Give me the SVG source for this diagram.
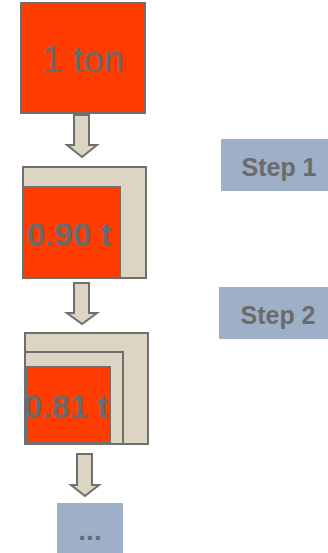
<svg xmlns="http://www.w3.org/2000/svg" width="328" height="553" viewBox="0 0 328 553">
  <style>
    .mass { fill: #ff3c00; stroke: #6f6f6f; stroke-width: 2; }
    .loss { fill: #dcd5c3; stroke: #6f6f6f; stroke-width: 2; }
    .step { fill: #9db0c7; }
    .arrow { fill: #dcd5c3; stroke: #6f6f6f; stroke-width: 2; stroke-linejoin: miter; }
    .lbl { font-family: "Liberation Sans", Arial, sans-serif; fill: #6b6b6b; text-anchor: middle; }
    .b { font-weight: bold; }
  </style>

  <!-- starting mass -->
  <g id="start">
    <rect class="mass" x="21" y="3" width="124" height="110"/>
    <text class="lbl" x="83" y="72" font-size="37">1 ton</text>
  </g>

  <!-- after one step -->
  <g id="mass-step1">
    <rect class="loss" x="23" y="167" width="123" height="111"/>
    <rect class="mass" x="23" y="187" width="97" height="91"/>
    <text class="lbl b" x="69" y="246" font-size="33">0.90 t</text>
  </g>

  <!-- after two steps -->
  <g id="mass-step2">
    <rect class="loss" x="25" y="333" width="123" height="111"/>
    <rect class="loss" x="25" y="352" width="98" height="92"/>
    <rect class="mass" x="26" y="367" width="84" height="76"/>
    <text class="lbl b" x="66" y="418" font-size="33">0.81 t</text>
  </g>

  <g id="step1">
    <rect class="step" x="221" y="139" width="110" height="52"/>
    <text class="lbl b" x="279" y="176" font-size="25">Step 1</text>
  </g>

  <g id="step2">
    <rect class="step" x="219" y="287" width="112" height="52"/>
    <text class="lbl b" x="278" y="324" font-size="25">Step 2</text>
  </g>

  <g id="more">
    <rect class="step" x="57" y="503" width="66" height="50"/>
    <text class="lbl b" x="90" y="540" font-size="28">...</text>
  </g>

  <!-- connectors: block arrows between stages -->
  <g id="connectors">
    <path class="arrow" d="M74 115 H89 V145 H97 L82 157 L67 145 H74 Z"/>
    <path class="arrow" d="M74 283 H89 V313 H97 L82 324 L67 313 H74 Z"/>
    <path class="arrow" d="M77 454 H92 V485 H99 L85 496 L71 485 H77 Z"/>
  </g>
</svg>
